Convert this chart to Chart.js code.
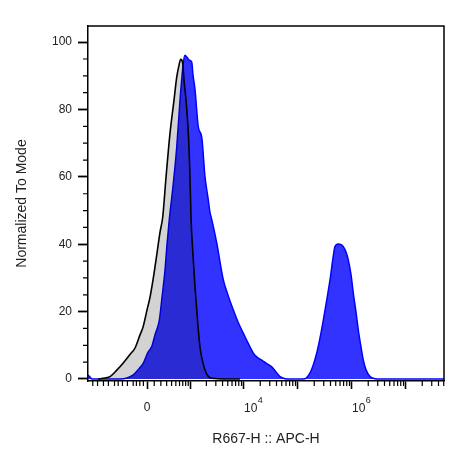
<!DOCTYPE html>
<html>
<head>
<meta charset="utf-8">
<title>R667-H :: APC-H histogram</title>
<script src="https://cdn.jsdelivr.net/npm/chart.js@4.4.1/dist/chart.umd.min.js"></script>
<style>
  html, body { margin: 0; padding: 0; background: #fff; }
  #wrap { width: 460px; height: 472px; }
</style>
</head>
<body>
<div id="wrap"><canvas id="histChart" width="460" height="472"></canvas></div>
<script>
// x positions are display units of the biexponential axis (1 unit = 1 decade at the high end)
const controlChannel = [-0.907, -0.778, -0.685, -0.556, -0.444, -0.315, -0.222, -0.130, -0.074, 0.000,
  0.056, 0.111, 0.185, 0.241, 0.291, 0.352, 0.426, 0.500, 0.550, 0.593,
  0.624, 0.661, 0.685, 0.722, 0.765, 0.796, 0.815, 0.852, 0.889, 0.935,
  0.981, 1.074, 1.198, 1.476, 1.720];
const controlCount = [0, 0.3, 0.7, 2.7, 4.7, 7.3, 9.2, 13.1, 15.4, 20.5,
  24.3, 29.4, 37.4, 43.6, 48.1, 59.9, 73.0, 82.8, 89.6, 93.2,
  94.9, 93.8, 88.7, 82.8, 73.0, 59.9, 47.8, 36.8, 27.3, 17.5,
  9.5, 2.7, 0.2, 0, 0];

const sampleChannel = [-1.093, -1.056, -1.019, -0.500, -0.370, -0.254, -0.167, -0.069, 0.019, 0.087,
  0.148, 0.228, 0.278, 0.333, 0.370, 0.413, 0.487, 0.550, 0.611, 0.672,
  0.704, 0.741, 0.778, 0.828, 0.852, 0.889, 0.950, 1.013, 1.074, 1.130,
  1.167, 1.198, 1.291, 1.413, 1.500, 1.598, 1.685, 1.783, 1.870, 1.969,
  2.037, 2.124, 2.204, 2.309, 2.389, 2.463, 2.556, 2.648, 2.833, 2.926,
  3.019, 3.074, 3.143, 3.204, 3.265, 3.328, 3.389, 3.444, 3.481, 3.543,
  3.593, 3.635, 3.685, 3.728, 3.778, 3.820, 3.870, 3.913, 3.963, 4.006,
  4.056, 4.130, 4.222, 4.315, 5.500];
const sampleCount = [1.2, 0.6, 0, 0, 0.3, 1.2, 2.7, 4.7, 8.0, 9.6,
  13.1, 17.5, 24.3, 32.3, 39.9, 47.4, 58.1, 68.8, 82.8, 93.8,
  96.1, 95.5, 94.7, 94.1, 90.2, 85.9, 74.8, 71.8, 60.0, 53.7,
  49.4, 47.4, 40.4, 29.4, 24.9, 20.5, 16.9, 13.6, 10.7, 7.7,
  6.5, 5.6, 4.7, 3.6, 2.1, 0.7, 0.1, 0, 0, 0.1,
  1.8, 3.9, 7.7, 12.2, 17.5, 23.4, 29.4, 35.9, 39.3, 40.1,
  39.9, 39.3, 37.7, 35.3, 31.0, 25.5, 19.9, 14.5, 9.5, 5.6,
  2.7, 0.7, 0.1, 0, 0];

// axis ticks, in raw fluorescence values
const xMajorValues = [0, 1e3, 1e4, 1e5, 1e6, 1e7];
const xMajorLabels = ['0', '', '10^4', '', '10^6', ''];
const xMinorLinear = [-1600, -1300, -1000, -800, -600, -500, -400, -300, -200, -150, -100, -50,
  100, 200, 300, 400, 500, 600, 700, 800, 900];
const xMinorMultipliers = [2, 3, 4, 5, 6, 7, 8, 9];
const xMinorDecades = [1e3, 1e4, 1e5, 1e6, 1e7];
const yMajorValues = [0, 20, 40, 60, 80, 100];
const yMinorValues = [5, 10, 15, 25, 30, 35, 45, 50, 55, 65, 70, 75, 85, 90, 95];

const xMin = -1.093;
const xMax = 5.5;
const biexWidth = 320;
const fontFamily = '"Liberation Sans", Arial, sans-serif';
const textColor = '#222';

// biexponential (arcsinh) transform from raw value to display units
const toDisplay = v => Math.asinh(v / biexWidth) / Math.LN10;

const toPoints = (xs, ys) => xs.map((x, i) => ({ x: x, y: ys[i] }));

// all minor x ticks: linear region plus 2..9 within every decade
let xMinorValues = xMinorLinear.slice();
xMinorDecades.forEach(d => xMinorMultipliers.forEach(m => xMinorValues.push(m * d)));

const frameAndTicks = {
  id: 'frameAndTicks',
  beforeDraw(chart) {
    const ctx = chart.ctx;
    ctx.save();
    ctx.fillStyle = '#fff';
    ctx.fillRect(0, 0, chart.width, chart.height);
    ctx.restore();
  },
  // once the control is drawn, switch to multiply so the sample (fill included,
  // which the filler paints in its own beforeDatasetDraw) darkens the overlap
  afterDatasetDraw(chart, args) {
    if (args.index === 0) {
      chart.ctx.save();
      chart.ctx.globalCompositeOperation = 'multiply';
    } else if (args.index === 1) {
      chart.ctx.restore();
    }
  },
  afterDraw(chart) {
    const ctx = chart.ctx;
    const area = chart.chartArea;
    const xScale = chart.scales.x;
    const yScale = chart.scales.y;
    ctx.save();
    ctx.strokeStyle = '#000';
    ctx.lineWidth = 1.5;

    // top and right sides of the box
    ctx.beginPath();
    ctx.moveTo(area.left, area.top);
    ctx.lineTo(area.right, area.top);
    ctx.lineTo(area.right, area.bottom);
    ctx.stroke();

    // minor ticks
    ctx.lineWidth = 1.2;
    ctx.beginPath();
    yMinorValues.forEach(v => {
      const py = yScale.getPixelForValue(v);
      ctx.moveTo(area.left - 5, py);
      ctx.lineTo(area.left, py);
    });
    xMinorValues.forEach(v => {
      const t = toDisplay(v);
      if (t <= xMin || t >= xMax) return;
      const px = xScale.getPixelForValue(t);
      ctx.moveTo(px, area.bottom);
      ctx.lineTo(px, area.bottom + 5);
    });
    ctx.stroke();

    // x tick labels, powers of ten written with a raised exponent
    ctx.fillStyle = textColor;
    ctx.textBaseline = 'alphabetic';
    xMajorValues.forEach((v, i) => {
      const label = xMajorLabels[i];
      if (!label) return;
      const px = xScale.getPixelForValue(toDisplay(v));
      const parts = label.split('^');
      ctx.font = '12px ' + fontFamily;
      if (parts.length === 1) {
        ctx.textAlign = 'center';
        ctx.fillText(parts[0], px, area.bottom + 30);
      } else {
        ctx.textAlign = 'left';
        ctx.fillText(parts[0], px, area.bottom + 31);
        const baseWidth = ctx.measureText(parts[0]).width;
        ctx.font = '9px ' + fontFamily;
        ctx.fillText(parts[1], px + baseWidth + 0.5, area.bottom + 22);
      }
    });
    ctx.restore();
  }
};

const ctx = document.getElementById('histChart').getContext('2d');
const histChart = new Chart(ctx, {
  type: 'line',
  data: {
    datasets: [
      {
        label: 'Control',
        data: toPoints(controlChannel, controlCount),
        order: 2,
        borderColor: '#000',
        borderWidth: 1.6,
        backgroundColor: '#d3d3d3',
        fill: 'origin',
        pointRadius: 0,
        cubicInterpolationMode: 'monotone'
      },
      {
        label: 'Sample',
        data: toPoints(sampleChannel, sampleCount),
        order: 1,
        borderColor: '#0000ff',
        borderWidth: 1.5,
        backgroundColor: '#3333ff',
        fill: 'origin',
        pointRadius: 0,
        cubicInterpolationMode: 'monotone'
      }
    ]
  },
  options: {
    responsive: false,
    animation: false,
    layout: { padding: { top: 26, right: 16, bottom: 0, left: 0 } },
    plugins: {
      legend: { display: false },
      tooltip: { enabled: false }
    },
    scales: {
      x: {
        type: 'linear',
        min: xMin,
        max: xMax,
        afterBuildTicks: scale => {
          scale.ticks = xMajorValues.map(v => ({ value: toDisplay(v) }));
        },
        afterFit: scale => { scale.height = 91; },
        ticks: { display: false },
        grid: { drawOnChartArea: false, drawTicks: true, tickLength: 8, tickWidth: 1.6, color: '#000' },
        border: { display: true, color: '#000', width: 1.5, z: 1 },
        title: {
          display: true,
          text: 'R667-H :: APC-H',
          color: textColor,
          font: { family: fontFamily, size: 14 },
          padding: { top: 0, bottom: 24 }
        }
      },
      y: {
        type: 'linear',
        min: -0.6,
        max: 104.8,
        afterBuildTicks: scale => {
          scale.ticks = yMajorValues.map(v => ({ value: v }));
        },
        afterFit: scale => { scale.width = 88; },
        ticks: {
          color: textColor,
          padding: 6,
          font: { family: fontFamily, size: 12 }
        },
        grid: { drawOnChartArea: false, drawTicks: true, tickLength: 10, tickWidth: 1.8, color: '#000' },
        border: { display: true, color: '#000', width: 1.5, z: 1 },
        title: {
          display: true,
          text: 'Normalized To Mode',
          color: textColor,
          font: { family: fontFamily, size: 14 },
          padding: { top: 14, bottom: 0 }
        }
      }
    }
  },
  plugins: [frameAndTicks]
});
</script>
</body>
</html>
